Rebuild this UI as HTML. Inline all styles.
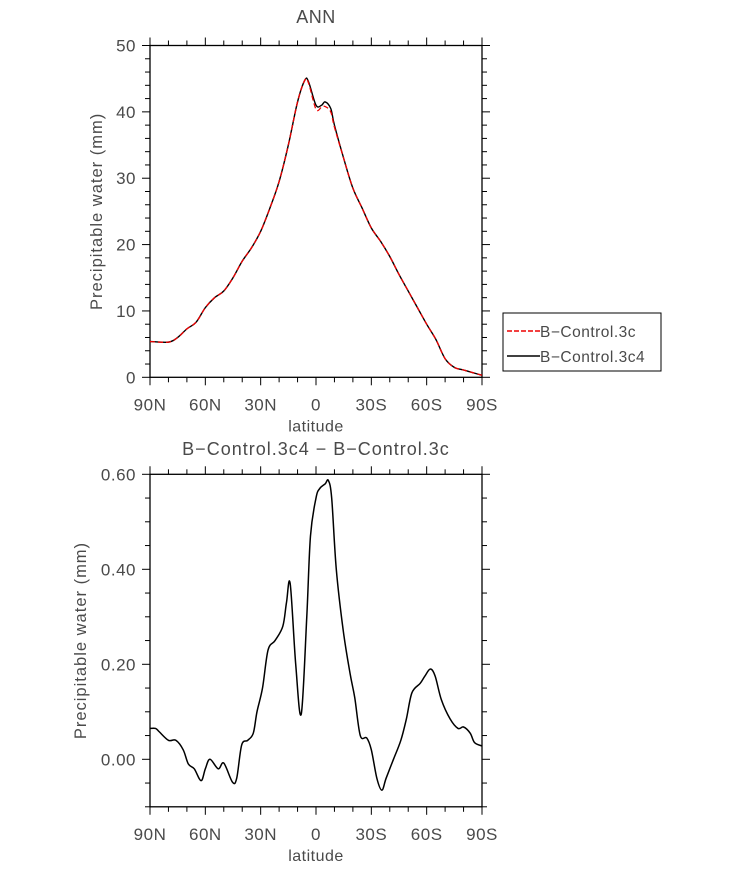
<!DOCTYPE html>
<html><head><meta charset="utf-8"><style>
body{margin:0;background:#fff;}
svg text{font-family:"Liberation Sans",sans-serif;fill:#4a4a4a;}
</style></head><body>
<svg id="chart" width="733" height="866" xmlns="http://www.w3.org/2000/svg"></svg>
<script>
// Top panel data (x = degrees from 90N, 0..180)
const topX = [0,10,15,20,25,30,35,40,45,50,55,60,65,70,75,80,84,86,90,93,95,98,100,105,110,115,120,125,130,135,140,145,150,155,160,165,170,175,180];
const ctrl3c4 = [5.4,5.3,6.0,7.3,8.3,10.5,12,13,15,17.5,19.5,22,25.5,29.5,35,41.5,44.8,44.5,41,41,41.5,40.5,38,33,28.5,25.5,22.5,20.5,18.2,15.5,13,10.5,8,5.7,2.8,1.5,1.1,0.7,0.3];
const ctrl3c = [5.4,5.3,6.0,7.3,8.3,10.5,12,13,15,17.5,19.5,22,25.5,29.5,35,41.5,44.8,44.3,40.4,40.7,40.8,40.0,37.7,33,28.5,25.5,22.5,20.5,18.2,15.5,13,10.5,8,5.7,2.8,1.5,1.1,0.7,0.3];
// Bottom panel data
const diffX = [0,3,5,10,14,18,20.8,24,27.7,30,32.5,37,40,44.7,47,49.7,53,56,58,61,64,67.8,72,74,76,79,82,85,87,90,92,95,96.7,98.5,101,104.8,108.5,111,114,117.5,120,123,125.7,128,132,136,139,142,146.5,149,152,154.6,158,162.7,167,170,173.6,176,180];
const diffVals = [0.065,0.065,0.058,0.04,0.04,0.02,-0.01,-0.02,-0.045,-0.02,0.0,-0.02,-0.008,-0.048,-0.04,0.03,0.04,0.055,0.1,0.15,0.23,0.25,0.28,0.33,0.37,0.2,0.095,0.3,0.47,0.55,0.57,0.58,0.587,0.55,0.4,0.27,0.18,0.13,0.05,0.045,0.02,-0.04,-0.065,-0.04,0.0,0.04,0.085,0.14,0.16,0.175,0.19,0.175,0.125,0.085,0.065,0.068,0.055,0.035,0.028];
const xTickLabels = ["90N","60N","30N","0","30S","60S","90S"];
const topYTicks = [0,10,20,30,40,50];
const botYTicks = ["0.00","0.20","0.40","0.60"];

const NS="http://www.w3.org/2000/svg";
const svg=document.getElementById('chart');
function el(tag,attrs,parent){const e=document.createElementNS(NS,tag);for(const k in attrs)e.setAttribute(k,attrs[k]);(parent||svg).appendChild(e);return e;}
function txt(s,attrs,parent){const e=el('text',attrs,parent);e.textContent=s;return e;}
function smoothPath(pts){let d=`M${pts[0][0]},${pts[0][1]}`;for(let i=0;i<pts.length-1;i++){const p0=pts[Math.max(0,i-1)],p1=pts[i],p2=pts[i+1],p3=pts[Math.min(pts.length-1,i+2)];const c1=[p1[0]+(p2[0]-p0[0])/6,p1[1]+(p2[1]-p0[1])/6],c2=[p2[0]-(p3[0]-p1[0])/6,p2[1]-(p3[1]-p1[1])/6];d+=` C${c1[0].toFixed(2)},${c1[1].toFixed(2)} ${c2[0].toFixed(2)},${c2[1].toFixed(2)} ${p2[0].toFixed(2)},${p2[1].toFixed(2)}`;}return d;}

const L=150,R=482;
function xs(v){return L+(R-L)*v/180;}

function panel(name,top,bot,ymin,ymax,yMajor,yMinor,yLabels,yLabelVals,ytx){
  const g=el('g',{}, svg);
  
  
  const ys=v=>bot-(bot-top)*(v-ymin)/(ymax-ymin);
  for(let d=0;d<=180;d+=10){const maj=d%30===0;const len=maj?8:5;
    el('line',{x1:xs(d),x2:xs(d),y1:bot,y2:bot+len,stroke:'#000','stroke-width':1},g);
    el('line',{x1:xs(d),x2:xs(d),y1:top,y2:top-len,stroke:'#000','stroke-width':1},g);}
  xTickLabels.forEach((s,i)=>{const t=txt(s,{x:xs(i*30),y:bot+33,'text-anchor':'middle','font-size':17,'letter-spacing':0.5},g);});
  const n=Math.round((ymax-ymin)/yMinor);
  for(let i=0;i<=n;i++){const v=ymin+i*yMinor;const maj=Math.abs(v/yMajor-Math.round(v/yMajor))<1e-6;const len=maj?8:5;
    el('line',{x1:L,x2:L-len,y1:ys(v),y2:ys(v),stroke:'#000','stroke-width':1},g);
    el('line',{x1:R,x2:R+len,y1:ys(v),y2:ys(v),stroke:'#000','stroke-width':1},g);}
  yLabels.forEach((s,i)=>{const t=txt(String(s),{x:L-14,y:ys(yLabelVals[i])+6,'text-anchor':'end','font-size':17,'letter-spacing':0.5},g);});
  el('rect',{x:L,y:top,width:R-L,height:bot-top,fill:'none',stroke:'#000','stroke-width':1.3},g);
  const xt=txt('latitude',{x:(L+R)/2,y:bot+54,'text-anchor':'middle','font-size':16,'letter-spacing':0.5},g);
  
  const yt=txt('Precipitable water (mm)',{x:0,y:0,'text-anchor':'middle','font-size':16.5,'letter-spacing':1,transform:`translate(${ytx},${(top+bot)/2}) rotate(-90)`},g);
  
  return ys;
}

const ys1=panel('top-panel',45.5,377.3,0,50,10,2,topYTicks,topYTicks,102);
const ys2=panel('bottom-panel',474.3,806.8,-0.1,0.6,0.2,0.05,botYTicks,botYTicks.map(Number),86);

const t1=txt('ANN',{x:316,y:23,'text-anchor':'middle','font-size':18,'letter-spacing':0.5});

const t2=txt('B\u2212Control.3c4 \u2212 B\u2212Control.3c',{x:316,y:455,'text-anchor':'middle','font-size':18,'letter-spacing':1});


const pb=el('path',{d:smoothPath(topX.map((x,i)=>[xs(x),ys1(ctrl3c4[i])])),fill:'none',stroke:'#000','stroke-width':1.4});

const pr=el('path',{d:smoothPath(topX.map((x,i)=>[xs(x),ys1(ctrl3c[i])])),fill:'none',stroke:'#e00','stroke-width':1.3,'stroke-dasharray':'5,3'});


const pd=el('path',{d:smoothPath(diffX.map((x,i)=>[xs(x),ys2(diffVals[i])])),fill:'none',stroke:'#000','stroke-width':1.5});


const lg=el('g',{});

el('rect',{x:503,y:313,width:158,height:58,fill:'#fff',stroke:'#000','stroke-width':1},lg);
el('line',{x1:507,x2:540,y1:331,y2:331,stroke:'#e00','stroke-width':1.5,'stroke-dasharray':'5,2'},lg);
txt('B\u2212Control.3c',{x:540,y:337,'font-size':15.5,'letter-spacing':0.5},lg);
el('line',{x1:507,x2:540,y1:356,y2:356,stroke:'#000','stroke-width':1.4},lg);
txt('B\u2212Control.3c4',{x:540,y:362,'font-size':15.5,'letter-spacing':0.5},lg);
</script>
</body></html>
